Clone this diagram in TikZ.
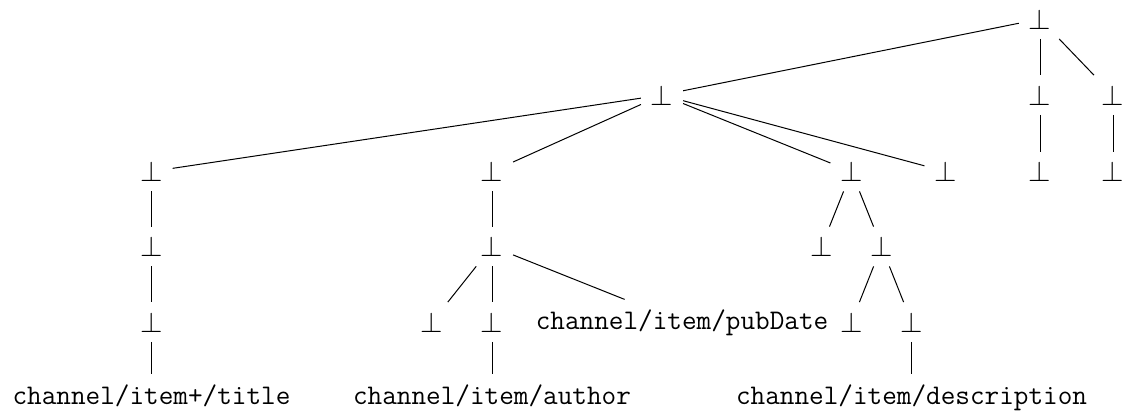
\documentclass[tikz,border=0pt]{standalone}
\begin{document}
\begin{tikzpicture}[x=0.5pt,y=-0.5pt,
  bt/.style={inner sep=4.75pt,font=\fontsize{14.2}{17}\selectfont},
  path/.style={inner sep=4.75pt,font=\fontsize{14.2}{17}\selectfont\ttfamily},
  edge/.style={line width=0.5pt}]
\useasboundingbox (0,0) rectangle (1122,412);
% level 0
\node[bt] (r) at (1040,19) {$\bot$};
% level 1
\node[bt] (a) at (662,95) {$\bot$};
\node[bt] (b) at (1040,95) {$\bot$};
\node[bt] (c) at (1113,95) {$\bot$};
% level 2
\node[bt] (a1) at (151.5,171.5) {$\bot$};
\node[bt] (a2) at (492,171.5) {$\bot$};
\node[bt] (a3) at (851.5,171.5) {$\bot$};
\node[bt] (a4) at (945.5,171.5) {$\bot$};
\node[bt] (b1) at (1040,171.5) {$\bot$};
\node[bt] (c1) at (1113,171.5) {$\bot$};
% level 3
\node[bt] (a11) at (151.5,246.5) {$\bot$};
\node[bt] (a21) at (492,246.5) {$\bot$};
\node[bt] (a31) at (821.5,246.5) {$\bot$};
\node[bt] (a32) at (881.5,246.5) {$\bot$};
% level 4
\node[bt] (a111) at (151.5,322) {$\bot$};
\node[bt] (a211) at (432,322) {$\bot$};
\node[bt] (a212) at (492,322) {$\bot$};
\node[path,anchor=base] (pub) at (682,329) {channel/item/pubDate};
\node[bt] (a321) at (851.5,322) {$\bot$};
\node[bt] (a322) at (911.5,322) {$\bot$};
% leaves
\node[path,anchor=base] (title) at (151.5,404) {channel/item+/title};
\node[path,anchor=base] (author) at (492,404) {channel/item/author};
\node[path,anchor=base] (desc) at (911.5,404) {channel/item/description};
% edges
\draw[edge] (r) -- (a);
\draw[edge] (r) -- (b);
\draw[edge] (r) -- (c);
\draw[edge] (b) -- (b1);
\draw[edge] (c) -- (c1);
\draw[edge] (a) -- (a1);
\draw[edge] (a) -- (a2);
\draw[edge] (a) -- (a3);
\draw[edge] (a) -- (a4);
\draw[edge] (a1) -- (a11);
\draw[edge] (a11) -- (a111);
\draw[edge] (a111) -- (title);
\draw[edge] (a2) -- (a21);
\draw[edge] (a21) -- (a211);
\draw[edge] (a21) -- (a212);
\draw[edge] (a21) -- (pub);
\draw[edge] (a212) -- (author);
\draw[edge] (a3) -- (a31);
\draw[edge] (a3) -- (a32);
\draw[edge] (a32) -- (a321);
\draw[edge] (a32) -- (a322);
\draw[edge] (a322) -- (desc);
\end{tikzpicture}
\end{document}
